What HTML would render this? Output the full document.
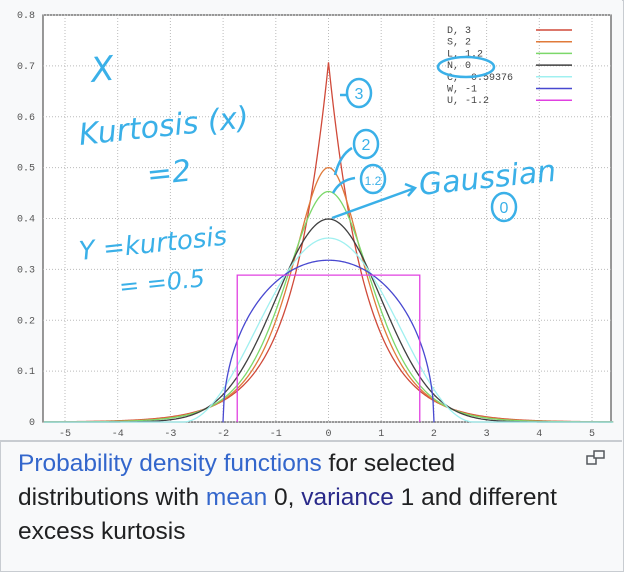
<!DOCTYPE html>
<html><head><meta charset="utf-8">
<style>
body{margin:0;width:624px;height:560px;background:#fff;overflow:hidden;font-family:"Liberation Sans",sans-serif}
#outer{position:absolute;left:0;top:0;width:622px;height:570px;border:1px solid #c8ccd1;background:#f8f9fa}
#frame{position:absolute;left:0;top:0;width:622px;height:440px;border-bottom:2px solid #c8ccd1;background:#f8f9fa}
#cap{position:absolute;left:18px;top:447px;width:600px;font-size:24.5px;line-height:34px;color:#202122;white-space:nowrap}
#cap a{color:#3366cc;text-decoration:none}
#cap a.v{color:#2a2a8a}
</style></head><body>
<div id="outer"></div>
<div id="frame">
<svg id="chart" width="622" height="440"></svg>
</div>
<div id="cap"><a href="#">Probability density functions</a> for selected<br>distributions with <a href="#">mean</a> 0, <a href="#" class="v">variance</a> 1 and different<br>excess kurtosis</div>
<svg style="position:absolute;left:586px;top:450px" width="20" height="16"><rect x="1" y="6" width="9" height="8" fill="none" stroke="#54595d" stroke-width="1.5"/><rect x="8" y="1" width="10" height="7" fill="#f8f9fa" stroke="#54595d" stroke-width="1.5"/></svg>
<script>
const names=["D","S","L","N","C","W","U"];
const kurtLabels=["3","2","1.2","0","-0.59376","-1","-1.2"];
const peaks=[0.707,0.5,0.453,0.399,0.3615,0.318,0.2887];
const colors=["#d04a3a","#e07a3a","#7cd86a","#404040","#a0f0f0","#4848d0","#e040e0"];
const xTicks=[-5,-4,-3,-2,-1,0,1,2,3,4,5];
const yTicks=[0,0.1,0.2,0.3,0.4,0.5,0.6,0.7,0.8];
const NS="http://www.w3.org/2000/svg";
const svg=document.getElementById('chart');
const L=43,R=611,T=15,B=422,x0=328.5,ux=52.7;
const X=v=>x0+v*ux, Y=v=>B-(B-T)*v/0.8;
function el(t,a,p){const e=document.createElementNS(NS,t);for(const k in a)e.setAttribute(k,a[k]);(p||svg).appendChild(e);return e;}
const bg=el('rect',{x:L,y:T,width:R-L,height:B-T,fill:'#fff',stroke:'#555','stroke-width':1.2});


xTicks.forEach(t=>{
 const g=el('line',{x1:X(t),x2:X(t),y1:T,y2:B,stroke:'#bbb','stroke-dasharray':'1,2'});
 
 
 const tx=el('text',{x:X(t),y:B+14,'font-size':10,'font-family':'Liberation Mono,monospace',fill:'#555','text-anchor':'middle'});
 tx.textContent=t;
 
 
});
yTicks.forEach(t=>{
 const g=el('line',{x1:L,x2:R,y1:Y(t),y2:Y(t),stroke:'#bbb','stroke-dasharray':'1,2'});
 
 
 const tx=el('text',{x:t===0?32:35,y:Y(t)+3,'font-size':10,'font-family':'Liberation Mono,monospace',fill:'#555','text-anchor':t===0?'middle':'end'});
 tx.textContent=t===0?'0':t.toFixed(1);
 
 
});
const shapes=[
 (x,p)=>p*Math.exp(-2*p*Math.abs(x)),
 (x,p)=>p/Math.cosh(Math.PI*p*x),
 (x,p)=>{const s=1/(4*p);const e=Math.exp(-x/s);return e/(s*(1+e)*(1+e));},
 (x,p)=>p*Math.exp(-Math.PI*p*p*x*x),
 (x,p)=>{const s=1/p;return Math.abs(x)<s?(p/2)*(1+Math.cos(Math.PI*x/s)):0;},
 (x,p)=>{const r=2/(Math.PI*p);return Math.abs(x)<r?p*Math.sqrt(1-x*x/(r*r)):0;},
 (x,p)=>{const h=1/(2*p);return Math.abs(x)<=h?p:0;}
];
names.forEach((n,i)=>{
 let d='';
 if(i===6){const h=1/(2*peaks[i]);d=`M${X(-h)},${Y(0)}L${X(-h)},${Y(peaks[i])}L${X(h)},${Y(peaks[i])}L${X(h)},${Y(0)}`;}
 else if(i===5){const r=2/(Math.PI*peaks[i]);d=`M${X(-r)},${Y(0)}`;for(let k=0;k<=200;k++){const x=-r+2*r*k/200;d+=`L${X(x).toFixed(2)},${Y(shapes[i](x,peaks[i])).toFixed(2)}`;}d+=`L${X(r)},${Y(0)}`;}
 else{for(let k=0;k<=600;k++){const x=-5.4+10.8*k/600;d+=(k?'L':'M')+X(x).toFixed(2)+','+Y(shapes[i](x,peaks[i])).toFixed(2);}}
 const p=el('path',{d:d,fill:'none',stroke:colors[i],'stroke-width':1.3});
 
 
 const ly=30+i*11.7;
 const lt=el('text',{x:447,y:ly+3,'font-size':10,'font-family':'Liberation Mono,monospace',fill:'#444','xml:space':'preserve'});
 lt.textContent=n+',  '+kurtLabels[i];
 
 
 const ll=el('line',{x1:536,x2:572,y1:ly,y2:ly,stroke:colors[i],'stroke-width':1.5});
 
 
});
const C='#3ab0e8';
[["X",92,82,34],["Kurtosis (x)",80,145,30],["=2",148,185,30],["Y =kurtosis",80,260,26],["= =0.5",120,295,24],["Gaussian",420,195,30]].forEach(a=>{
 const t=el('text',{x:a[1],y:a[2],'font-size':a[3],fill:C,'font-family':'DejaVu Sans,sans-serif','font-style':'italic',transform:`rotate(-6 ${a[1]} ${a[2]})`});
 t.textContent=a[0];
 
 
});
[["3",359,93],["2",366,144],["1.2",373,179],["0",504,207]].forEach(a=>{
 const c=el('ellipse',{cx:a[1],cy:a[2],rx:12,ry:14,fill:'none',stroke:C,'stroke-width':2.5});
 
 
 const t=el('text',{x:a[1],y:a[2]+6,'font-size':a[0].length>1?12:16,fill:C,'text-anchor':'middle'});
 t.textContent=a[0];
 
 
});
const ov=el('ellipse',{cx:466,cy:67,rx:28,ry:10,fill:'none',stroke:C,'stroke-width':2.5});


[["M340,95 L347,95"],["M335,175 Q340,155 352,148"],["M333,193 Q340,180 355,178"],["M332,218 L415,188 M405,184 L415,188 L408,196"]].forEach(a=>{
 const p=el('path',{d:a[0],fill:'none',stroke:C,'stroke-width':2.5});
 
 
});
</script>
</body></html>
